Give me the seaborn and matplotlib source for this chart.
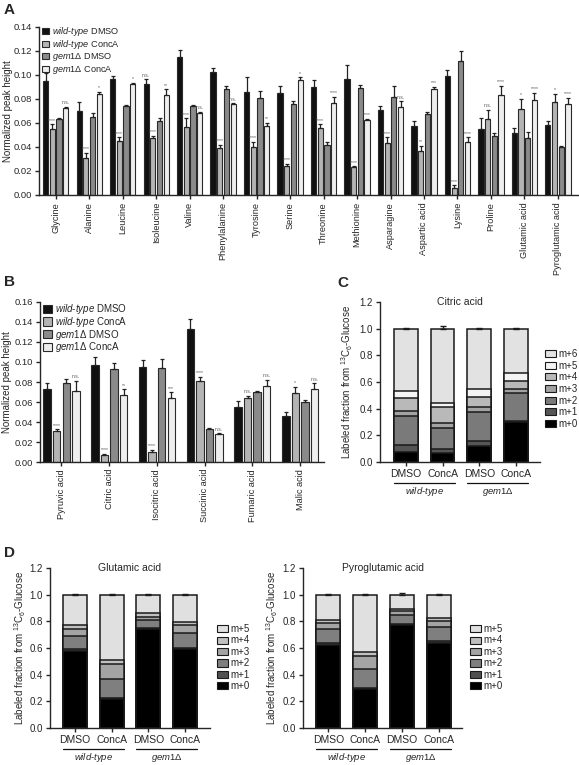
import matplotlib
matplotlib.use("Agg")
import matplotlib.pyplot as plt
from matplotlib.patches import Patch
import numpy as np
import pandas as pd
import seaborn as sns

# ---------------- data ----------------
conditions = ["wt DMSO", "wt ConcA", "gem1 DMSO", "gem1 ConcA"]
cond_labels = [r"$\mathit{wild}$-$\mathit{type}$ DMSO", r"$\mathit{wild}$-$\mathit{type}$ ConcA",
               r"$\mathit{gem1Δ}$ DMSO", r"$\mathit{gem1Δ}$ ConcA"]
bar_colors = ["#111111", "#b4b4b4", "#8a8a8a", "#eeeeee"]

# panel A: amino acids
amino_acids = ["Glycine", "Alanine", "Leucine", "Isoleucine", "Valine", "Phenylalanine",
               "Tyrosine", "Serine", "Threonine", "Methionine", "Asparagine", "Aspartic acid",
               "Lysine", "Proline", "Glutamic acid", "Pyroglutamic acid"]
aa_wt_dmso = [0.095, 0.070, 0.097, 0.0925, 0.115, 0.1025, 0.086, 0.085, 0.090, 0.097, 0.071, 0.0575, 0.099, 0.055, 0.052, 0.058]
aa_wt_conca = [0.055, 0.031, 0.045, 0.0475, 0.057, 0.039, 0.040, 0.024, 0.056, 0.023, 0.043, 0.037, 0.006, 0.063, 0.072, 0.0775]
aa_gem_dmso = [0.0633, 0.065, 0.074, 0.062, 0.074, 0.088, 0.081, 0.076, 0.042, 0.089, 0.082, 0.0675, 0.112, 0.049, 0.0475, 0.040]
aa_gem_conca = [0.0725, 0.084, 0.0925, 0.083, 0.0685, 0.0755, 0.0575, 0.096, 0.077, 0.0625, 0.073, 0.088, 0.044, 0.083, 0.079, 0.076]
aa_err_wt_dmso = [0.007, 0.0075, 0.002, 0.004, 0.0055, 0.003, 0.0125, 0.006, 0.006, 0.011, 0.003, 0.004, 0.005, 0.009, 0.004, 0.004]
aa_err_wt_conca = [0.004, 0.004, 0.003, 0.002, 0.007, 0.003, 0.0045, 0.002, 0.003, 0.001, 0.005, 0.004, 0.002, 0.008, 0.008, 0.007]
aa_err_gem_dmso = [0.0005, 0.003, 0.001, 0.002, 0.001, 0.003, 0.006, 0.002, 0.002, 0.003, 0.009, 0.002, 0.008, 0.003, 0.005, 0.001]
aa_err_gem_conca = [0.001, 0.002, 0.001, 0.005, 0.001, 0.001, 0.0025, 0.002, 0.005, 0.001, 0.005, 0.002, 0.004, 0.008, 0.006, 0.005]
aa_sig_wt_dmso = ["", "", "", "n.s.", "", "", "", "", "", "", "", "", "", "", "", ""]
aa_sig_wt_conca = ["****", "****", "****", "****", "****", "****", "****", "****", "****", "****", "****", "**", "****", "n.s.", "*", "*"]
aa_sig_gem_conca = ["n.s.", "*", "*", "**", "n.s.", "n.s.", "**", "*", "****", "****", "n.s.", "***", "****", "****", "****", "****"]

# panel B: TCA intermediates
tca_acids = ["Pyruvic acid", "Citric acid", "Isocitric acid", "Succinic acid", "Fumaric acid", "Malic acid"]
tca_wt_dmso = [0.073, 0.097, 0.0955, 0.133, 0.0555, 0.046]
tca_wt_conca = [0.0313, 0.007, 0.0097, 0.081, 0.0637, 0.0693]
tca_gem_dmso = [0.0787, 0.093, 0.0943, 0.0333, 0.070, 0.0597]
tca_gem_conca = [0.071, 0.067, 0.0637, 0.028, 0.0763, 0.0727]
tca_err_wt_dmso = [0.0063, 0.0083, 0.006, 0.010, 0.006, 0.0043]
tca_err_wt_conca = [0.0013, 0.001, 0.0023, 0.0043, 0.0027, 0.006]
tca_err_gem_dmso = [0.004, 0.0057, 0.0083, 0.0007, 0.001, 0.002]
tca_err_gem_conca = [0.0103, 0.0057, 0.006, 0.0007, 0.0057, 0.006]
tca_sig_wt_conca = ["****", "****", "****", "****", "n.s.", "*"]
tca_sig_gem_conca = ["n.s.", "**", "***", "n.s.", "n.s.", "n.s."]

# panels C/D: isotopologue fractions (wt DMSO, wt ConcA, gem1 DMSO, gem1 ConcA)
iso_labels_c = ["m+0", "m+1", "m+2", "m+3", "m+4", "m+5", "m+6"]
iso_colors_c = ["#000000", "#555555", "#7a7a7a", "#a2a2a2", "#b9b9b9", "#f4f4f4", "#e2e2e2"]
citric_m0 = [0.075, 0.070, 0.120, 0.300]
citric_m1 = [0.050, 0.030, 0.035, 0.010]
citric_m2 = [0.220, 0.155, 0.220, 0.205]
citric_m3 = [0.040, 0.040, 0.035, 0.030]
citric_m4 = [0.095, 0.120, 0.080, 0.060]
citric_m5 = [0.055, 0.025, 0.060, 0.065]
citric_m6 = [0.465, 0.560, 0.450, 0.330]
citric_total_err = [0.005, 0.02, 0.005, 0.005]

iso_labels_d = ["m+0", "m+1", "m+2", "m+3", "m+4", "m+5"]
iso_colors_d = ["#000000", "#505050", "#7f7f7f", "#a4a4a4", "#c0c0c0", "#e0e0e0"]
glu_m0 = [0.580, 0.220, 0.745, 0.590]
glu_m1 = [0.010, 0.005, 0.005, 0.010]
glu_m2 = [0.100, 0.145, 0.060, 0.110]
glu_m3 = [0.050, 0.110, 0.025, 0.060]
glu_m4 = [0.030, 0.030, 0.025, 0.025]
glu_m5 = [0.230, 0.490, 0.140, 0.205]
glu_total_err = [0.004, 0.004, 0.004, 0.004]
pyroglu_m0 = [0.620, 0.290, 0.770, 0.635]
pyroglu_m1 = [0.020, 0.010, 0.010, 0.020]
pyroglu_m2 = [0.100, 0.140, 0.070, 0.100]
pyroglu_m3 = [0.050, 0.100, 0.025, 0.045]
pyroglu_m4 = [0.020, 0.030, 0.020, 0.025]
pyroglu_m5 = [0.190, 0.430, 0.105, 0.175]
pyroglu_total_err = [0.004, 0.004, 0.012, 0.004]

treat_labels = ["DMSO", "ConcA", "DMSO", "ConcA"]
strain_labels = [r"$\mathit{wild}$-$\mathit{type}$", r"$\mathit{gem1Δ}$"]

# ---------------- style ----------------
sns.set_style("ticks")
plt.rcParams["font.family"] = ["Liberation Sans", "DejaVu Sans"]
plt.rcParams["mathtext.fontset"] = "custom"
plt.rcParams["mathtext.rm"] = "Liberation Sans"
plt.rcParams["mathtext.it"] = "Liberation Sans:italic"
plt.rcParams["mathtext.bf"] = "Liberation Sans:bold"
plt.rcParams["axes.linewidth"] = 1.0
plt.rcParams["xtick.major.width"] = 1.0
plt.rcParams["ytick.major.width"] = 1.0
plt.rcParams["xtick.major.size"] = 3
plt.rcParams["ytick.major.size"] = 3
plt.rcParams["xtick.major.pad"] = 2
plt.rcParams["ytick.major.pad"] = 2

W, H = 579, 765
fig = plt.figure(figsize=(W / 100, H / 100), dpi=100)


def axes_px(left, top, right, bottom):
    return fig.add_axes([left / W, 1 - bottom / H, (right - left) / W, (bottom - top) / H])


def grouped_bars(ax, cats, means, errs, sigs):
    rows = []
    for cond, vals in zip(conditions, means):
        for c, v in zip(cats, vals):
            rows.append({"cat": c, "cond": cond, "val": v})
    df = pd.DataFrame(rows)
    sns.barplot(data=df, x="cat", y="val", hue="cond", hue_order=conditions, order=cats,
                palette=bar_colors, errorbar=None, width=0.8, gap=0.22, saturation=1,
                edgecolor="#2a2a2a", linewidth=0.8, legend=False, ax=ax)
    for container, e_list, s_list in zip(ax.containers, errs, sigs):
        for bar, e, s in zip(container, e_list, s_list):
            x = bar.get_x() + bar.get_width() / 2
            h = bar.get_height()
            ax.errorbar(x, h, yerr=[[0], [e]], fmt="none", ecolor="#222222",
                        elinewidth=0.9, capsize=1.6, capthick=0.9)
            if s:
                ax.annotate(s, (x, h + e), xytext=(0, 1.2), textcoords="offset points",
                            ha="center", va="bottom", fontsize=3.6, color="#555555")
    ax.set_xlabel("")
    ax.set_ylabel("Normalized peak height", fontsize=7)
    ax.tick_params(axis="x", labelrotation=90, labelsize=6.6)
    ax.tick_params(axis="y", labelsize=6.8)
    sns.despine(ax=ax)
    handles = [Patch(facecolor=c, edgecolor="#2a2a2a", linewidth=0.8) for c in bar_colors]
    return handles


def stacked_bars(ax, fractions, colors, total_err, title):
    keys = ["wt DMSO", "wt ConcA", "gem1 DMSO", "gem1 ConcA"]
    tops = np.cumsum(np.array(fractions), axis=0)
    for level in range(len(fractions) - 1, -1, -1):
        sns.barplot(x=keys, y=tops[level], order=keys, color=colors[level], saturation=1,
                    errorbar=None, width=0.65, edgecolor="#1a1a1a", linewidth=1.1, ax=ax)
    for i, (k, e) in enumerate(zip(keys, total_err)):
        ax.errorbar(i, tops[-1][i], yerr=[[0], [e]], fmt="none", ecolor="#1a1a1a",
                    elinewidth=1.0, capsize=2.5, capthick=1.0)
    ax.set_ylim(0, 1.2)
    ax.set_yticks([0.0, 0.2, 0.4, 0.6, 0.8, 1.0, 1.2])
    ax.set_yticklabels(["0.0", "0.2", "0.4", "0.6", "0.8", "1.0", "1.2"])
    ax.set_xticks(range(4))
    ax.set_xticklabels(treat_labels, fontsize=7.5)
    ax.tick_params(axis="y", labelsize=7)
    ax.set_xlabel("")
    ax.set_ylabel(r"Labeled fraction from $^{13}$C$_{6}$-Glucose", fontsize=7)
    ax.text(0.5, 1.0, title, transform=ax.transAxes, ha="center", va="center", fontsize=7.5)
    trans = ax.get_xaxis_transform()
    for j, lab in enumerate(strain_labels):
        x0, x1 = 2 * j - 0.33, 2 * j + 1.33
        ax.plot([x0, x1], [-0.13, -0.13], transform=trans, color="#111111", lw=0.9, clip_on=False)
        ax.text(2 * j + 0.5, -0.185, lab, transform=trans, ha="center", va="center", fontsize=6.8)
    sns.despine(ax=ax)


# ---------------- panel A ----------------
axA = axes_px(39, 27, 578, 195)
hA = grouped_bars(axA, amino_acids,
                  [aa_wt_dmso, aa_wt_conca, aa_gem_dmso, aa_gem_conca],
                  [aa_err_wt_dmso, aa_err_wt_conca, aa_err_gem_dmso, aa_err_gem_conca],
                  [aa_sig_wt_dmso, aa_sig_wt_conca, [""] * 16, aa_sig_gem_conca])
axA.set_xlim(-0.5, 15.6)
axA.set_ylim(0, 0.14)
axA.set_yticks(np.arange(0, 0.141, 0.02))
axA.set_yticklabels([f"{v:.2f}" for v in np.arange(0, 0.141, 0.02)])
axA.yaxis.set_label_coords(-0.048, 0.5)
axA.legend(hA, cond_labels, loc="upper left", bbox_to_anchor=(0.006, 1.01), frameon=False,
           fontsize=6.6, handlelength=0.75, handleheight=0.75, handletextpad=0.3,
           labelspacing=0.0, borderaxespad=0, borderpad=0)

# ---------------- panel B ----------------
axB = axes_px(40, 302, 324, 462)
hB = grouped_bars(axB, tca_acids,
                  [tca_wt_dmso, tca_wt_conca, tca_gem_dmso, tca_gem_conca],
                  [tca_err_wt_dmso, tca_err_wt_conca, tca_err_gem_dmso, tca_err_gem_conca],
                  [[""] * 6, tca_sig_wt_conca, [""] * 6, tca_sig_gem_conca])
axB.set_xlim(-0.45, 5.5)
axB.set_ylim(0, 0.16)
axB.set_yticks(np.arange(0, 0.161, 0.02))
axB.set_yticklabels([f"{v:.2f}" for v in np.arange(0, 0.161, 0.02)])
axB.yaxis.set_label_coords(-0.1, 0.5)
axB.legend(hB, cond_labels, loc="upper left", bbox_to_anchor=(0.01, 1.0), frameon=False,
           fontsize=7, handlelength=0.9, handleheight=0.9, handletextpad=0.3,
           labelspacing=-0.12, borderaxespad=0, borderpad=0)

# ---------------- panel C ----------------
axC = axes_px(380, 302, 540, 462)
stacked_bars(axC, [citric_m0, citric_m1, citric_m2, citric_m3, citric_m4, citric_m5, citric_m6],
             iso_colors_c, citric_total_err, "Citric acid")
axC.set_xlim(-0.7, 3.65)
axC.yaxis.set_label_coords(-0.155, 0.5)
hC = [Patch(facecolor=c, edgecolor="#1a1a1a", linewidth=0.8) for c in iso_colors_c][::-1]
fig.legend(hC, iso_labels_c[::-1], loc="upper left", bbox_to_anchor=(545 / W, 1 - 349 / H),
           frameon=False, fontsize=7, handlelength=1.1, handleheight=0.75, handletextpad=0.25,
           labelspacing=0.17, borderaxespad=0, borderpad=0)

# ---------------- panel D ----------------
axD1 = axes_px(50, 568, 210, 728)
stacked_bars(axD1, [glu_m0, glu_m1, glu_m2, glu_m3, glu_m4, glu_m5], iso_colors_d,
             glu_total_err, "Glutamic acid")
axD1.set_xlim(-0.68, 3.68)
axD1.yaxis.set_label_coords(-0.135, 0.5)
hD = [Patch(facecolor=c, edgecolor="#1a1a1a", linewidth=0.8) for c in iso_colors_d][::-1]
fig.legend(hD, iso_labels_d[::-1], loc="upper left", bbox_to_anchor=(217 / W, 1 - 624 / H),
           frameon=False, fontsize=7, handlelength=1.1, handleheight=0.75, handletextpad=0.25,
           labelspacing=0.15, borderaxespad=0, borderpad=0)

axD2 = axes_px(303, 568, 462, 728)
stacked_bars(axD2, [pyroglu_m0, pyroglu_m1, pyroglu_m2, pyroglu_m3, pyroglu_m4, pyroglu_m5],
             iso_colors_d, pyroglu_total_err, "Pyroglutamic acid")
axD2.set_xlim(-0.69, 3.63)
axD2.yaxis.set_label_coords(-0.145, 0.5)
fig.legend(hD, iso_labels_d[::-1], loc="upper left", bbox_to_anchor=(470 / W, 1 - 624 / H),
           frameon=False, fontsize=7, handlelength=1.1, handleheight=0.75, handletextpad=0.25,
           labelspacing=0.15, borderaxespad=0, borderpad=0)

# panel letters
for letter, (x, y) in {"A": (4, 10), "B": (4, 282), "C": (337, 283), "D": (4, 553)}.items():
    fig.text(x / W, 1 - y / H, letter, fontsize=11, fontweight="bold", ha="left", va="center")

fig.savefig("out.png", dpi=100)
